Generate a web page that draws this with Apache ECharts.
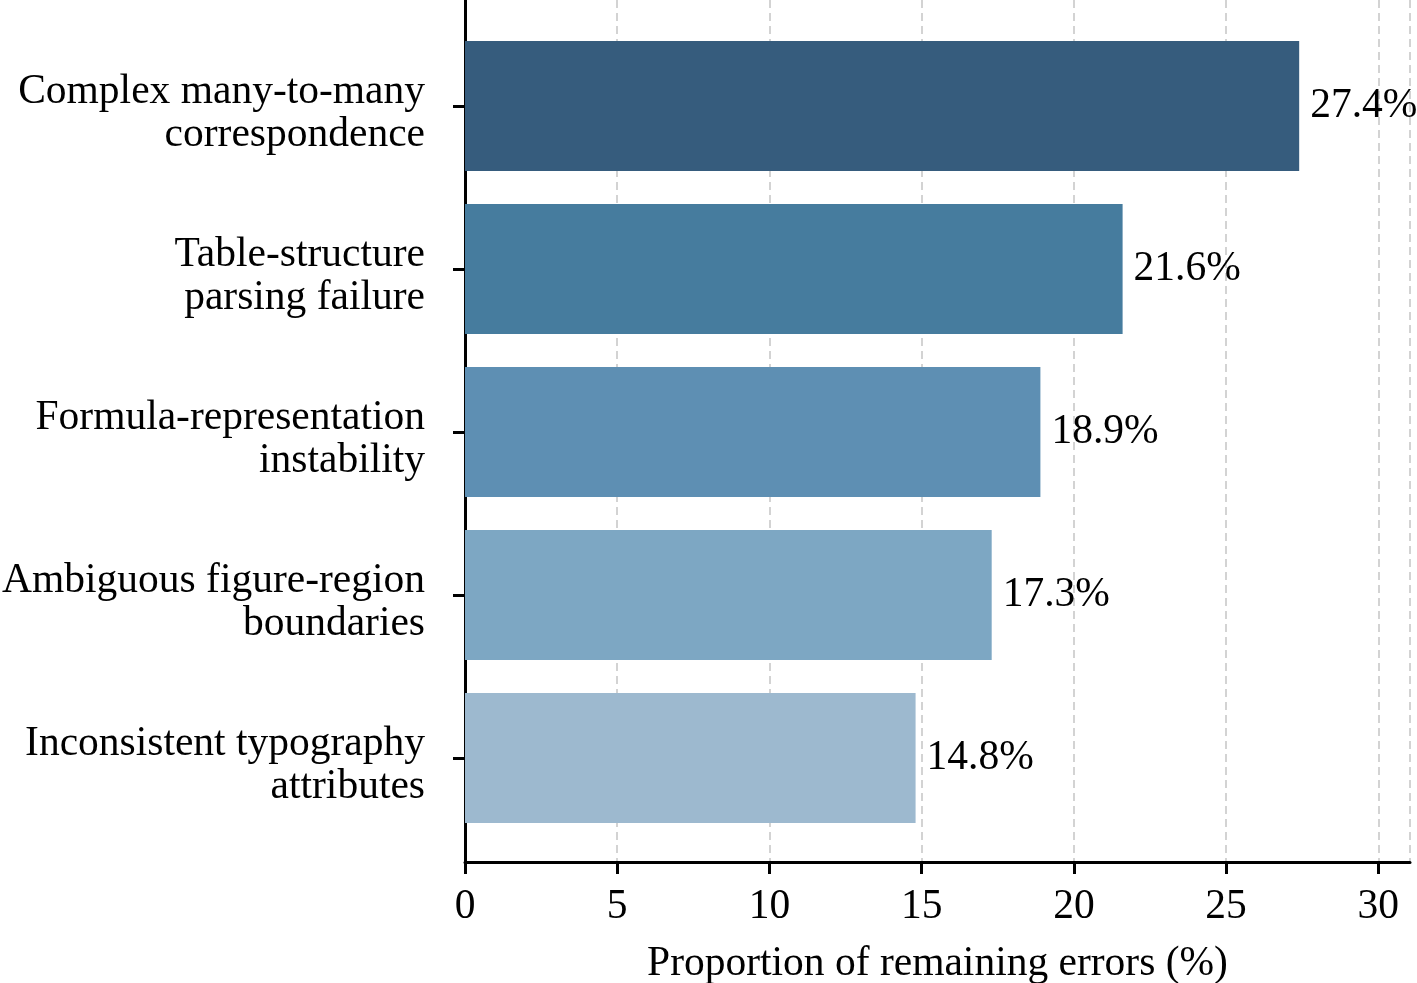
<!DOCTYPE html>
<html>
<head>
<meta charset="utf-8">
<script src="https://cdn.jsdelivr.net/npm/echarts@6/dist/echarts.min.js"></script>
<style>
  html, body { margin: 0; padding: 0; background: #fff; }
  #container { width: 1417px; height: 983px; }
</style>
</head>
<body>
<div id="container"></div>
<script>
var dom = document.getElementById("container");
var myChart = echarts.init(dom);

var categories = [
  "Complex many-to-many\ncorrespondence",
  "Table-structure\nparsing failure",
  "Formula-representation\ninstability",
  "Ambiguous figure-region\nboundaries",
  "Inconsistent typography\nattributes"
];
var values = [27.4, 21.6, 18.9, 17.3, 14.8];
var barColors = ["#365c7d", "#467c9e", "#5e8fb3", "#7da7c3", "#9db9cf"];
var xTicks = [0, 5, 10, 15, 20, 25, 30];

var font = "Liberation Serif";
var fs = 41.5;

var option = {
  backgroundColor: "#fff",
  animation: false,
  grid: [
    // frame: spines + dashed grid
    { left: 465, top: 0, width: 945, height: 862, outerBoundsMode: "none", containLabel: false },
    // bars + ticks
    { left: 465, top: 24.5, width: 945, height: 815, outerBoundsMode: "none", containLabel: false },
    // category labels (sit a bit lower than the ticks, like the source)
    { left: 465, top: 32, width: 945, height: 815, outerBoundsMode: "none", containLabel: false }
  ],
  xAxis: [
    {
      gridIndex: 0,
      type: "value",
      min: 0,
      max: 31.04,
      interval: 5,
      name: "Proportion of remaining errors (%)",
      nameLocation: "middle",
      nameGap: 81,
      nameTextStyle: { fontFamily: font, fontSize: fs, color: "#000" },
      axisLine: { show: true, onZero: false, lineStyle: { color: "#000", width: 3 } },
      axisTick: { show: true, length: 12, lineStyle: { color: "#000", width: 3 } },
      axisLabel: {
        fontFamily: font, fontSize: fs, color: "#000", margin: 24,
        showMaxLabel: false,
        formatter: function (v) { return xTicks.indexOf(v) >= 0 ? String(v) : ""; }
      },
      splitLine: { show: true, lineStyle: { color: "#d3d3d3", width: 2, type: [8, 5] } }
    },
    { gridIndex: 1, type: "value", min: 0, max: 31.04, show: false },
    { gridIndex: 2, type: "value", min: 0, max: 31.04, show: false }
  ],
  yAxis: [
    {
      gridIndex: 0,
      type: "value",
      min: 0,
      max: 1,
      axisLine: { show: true, onZero: false, lineStyle: { color: "#000", width: 3 } },
      axisTick: { show: false },
      axisLabel: { show: false },
      splitLine: { show: false }
    },
    {
      gridIndex: 1,
      type: "category",
      inverse: true,
      data: categories,
      axisLine: { show: false },
      axisTick: { show: true, alignWithLabel: true, length: 12, lineStyle: { color: "#000", width: 3 } },
      axisLabel: { show: false },
      splitLine: { show: false }
    },
    {
      gridIndex: 2,
      type: "category",
      inverse: true,
      data: categories,
      axisLine: { show: false },
      axisTick: { show: false },
      axisLabel: {
        fontFamily: font, fontSize: fs, color: "#000", margin: 40,
        lineHeight: 43, align: "right"
      },
      splitLine: { show: false }
    }
  ],
  series: [
    {
      type: "bar",
      xAxisIndex: 1,
      yAxisIndex: 1,
      barWidth: 130,
      data: values.map(function (v, i) {
        return { value: v, itemStyle: { color: barColors[i] } };
      }),
      label: {
        show: true,
        position: "right",
        distance: 11,
        fontFamily: font,
        fontSize: fs,
        color: "#000",
        formatter: function (p) { return p.value.toFixed(1) + "%"; }
      }
    }
  ]
};

myChart.setOption(option);
</script>
</body>
</html>
